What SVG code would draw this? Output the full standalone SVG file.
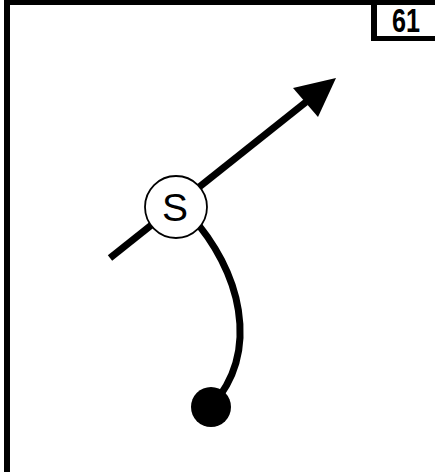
<svg xmlns="http://www.w3.org/2000/svg" width="435" height="472" viewBox="0 0 435 472">
<style>
.frame{fill:#000}
.thick{stroke:#000;stroke-width:7;fill:none}
.lbl{font-family:"Liberation Sans",Arial,sans-serif;fill:#000}
</style>
<rect width="435" height="472" fill="#fff"/>
<g id="frame">
<rect class="frame" x="4" y="0" width="431" height="5"/>
<rect class="frame" x="4" y="0" width="6" height="472"/>
<rect class="frame" x="371" y="0" width="6" height="41"/>
<rect class="frame" x="371" y="36" width="64" height="5"/>
<text class="lbl" x="406" y="32" font-size="34" font-weight="bold" text-anchor="middle" textLength="28" lengthAdjust="spacingAndGlyphs">61</text>
</g>
<g id="connectors">
<line class="thick" x1="110" y1="258" x2="306" y2="102"/>
<polygon points="336,78 293,88 318,117" fill="#000"/>
<path class="thick" d="M 190 215 C 240 270, 262 350, 211 407"/>
</g>
<g id="end">
<circle cx="211" cy="407" r="20" fill="#000"/>
</g>
<g id="s">
<circle cx="176" cy="207" r="31" fill="#fff" stroke="#000" stroke-width="1.8"/>
<text class="lbl" x="175" y="221" font-size="39" text-anchor="middle">S</text>
</g>
</svg>
